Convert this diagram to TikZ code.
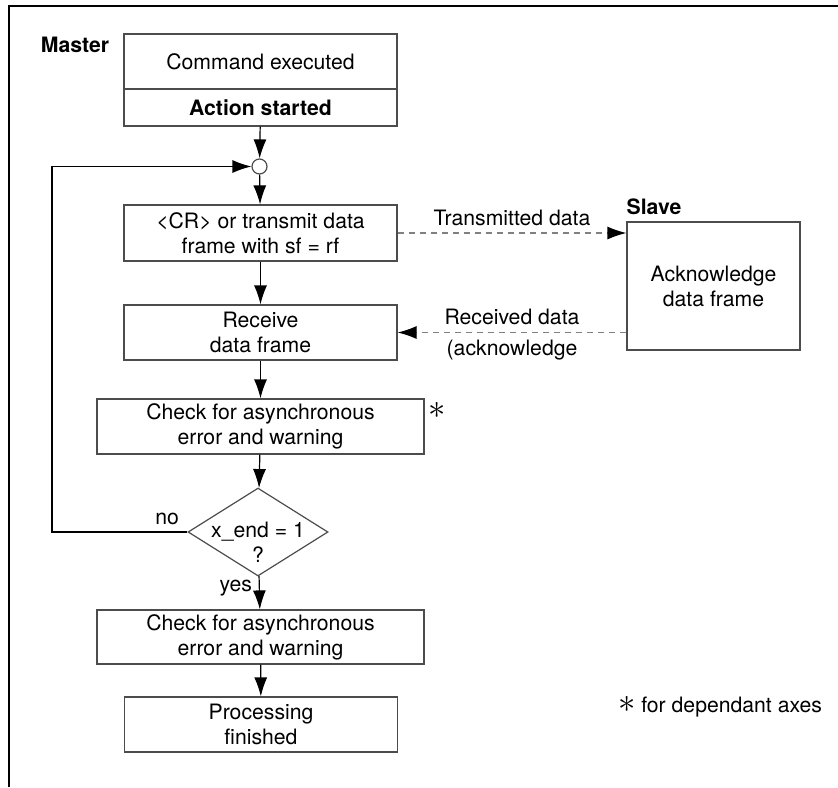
\documentclass[tikz,border=0pt]{standalone}
\usepackage{fontspec}
\setmainfont{TeX Gyre Heros}
\usetikzlibrary{shapes.geometric,arrows.meta}

\begin{document}
\begin{tikzpicture}[x=0.5pt, y=-0.5pt, >={Latex[length=9.5pt,width=6.5pt]},
  font=\fontsize{10.6}{12.5}\selectfont,
  box/.style={draw=black!70, line width=0.6pt, align=center, inner sep=0pt,
    minimum width=136.5pt, minimum height=27.5pt},
  widebox/.style={box, minimum width=163.5pt},
  flow/.style={->, line width=0.6pt},
  datalink/.style={-{Latex[length=9.5pt,width=6.5pt,color=black]}, draw=gray,
    text=black, line width=0.6pt, dash pattern=on 3pt off 2.5pt}]
\useasboundingbox (0,0) rectangle (838,787);

% frame
\draw[line width=1pt] (9,787) -- (9,6) -- (838,6);

% master side
\node (master) at (75,45) {\bfseries Master};
\node[box] (cmd) at (260.5,61.5) {Command executed};
\node[box, minimum height=18.5pt] (act) at (260.5,107.5) {\bfseries Action started};
\node[draw=black!70, line width=0.6pt, circle, inner sep=0pt, minimum size=7.5pt] (join) at (259.5,166.5) {};
\node[box, minimum height=28pt] (tx) at (260.5,233) {\textless CR\textgreater{} or transmit data\\frame with sf = rf};
\node[box] (rx) at (260.5,332.5) {Receive\\data frame};
\node[widebox] (chk1) at (260.5,426.5) {Check for asynchronous\\error and warning};
\node (star) at (437,410) {\fontsize{17}{17}\selectfont$\ast$};
\node[draw=black!70, line width=0.6pt, diamond, inner sep=0pt,
  minimum width=70pt, minimum height=44pt] (dec) at (258,532) {};
\node[align=center] (dectxt) at (258,542) {x\_end = 1\\?};
\node[widebox, minimum height=27pt] (chk2) at (260.5,637) {Check for asynchronous\\error and warning};
\node[box] (done) at (261,724.5) {Processing\\finished};

% slave side
\node (slavelbl) at (654,207) {\bfseries Slave};
\node[box, minimum width=86.5pt, minimum height=64pt] (slave) at (713.5,286) {Acknowledge\\data frame};

% footnote
\node (note) at (720,707) {{\fontsize{17}{17}\selectfont$\ast$} for dependant axes};

% connectors
\coordinate (loop) at (52,0);
\draw[flow] (act) -- (join);
\draw[flow] (join) -- (tx);
\draw[flow] (tx) -- (rx);
\draw[flow] (rx) -- (chk1);
\draw[flow] (chk1) -- (dec);
\draw[flow] (dec) -- node[left, pos=0.35] {yes} (chk2);
\draw[flow] (chk2) -- (done);
\draw[flow] (dec.west) -- node[above, pos=0.15] {no} (dec.west -| loop) |- (join.west);

\draw[datalink] (tx.east) -- node[above] {Transmitted data} (tx.east -| slave.west);
\draw[datalink] (rx.east -| slave.west) -- node[above] {Received data}
  node[below] {(acknowledge} (rx.east);
\end{tikzpicture}
\end{document}
